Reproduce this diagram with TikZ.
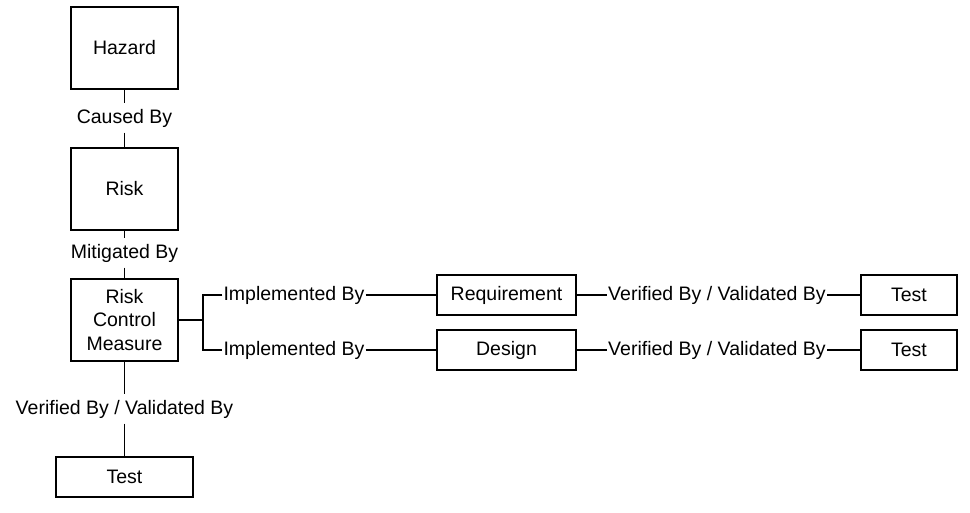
\documentclass[tikz,border=0pt]{standalone}
\usepackage{fontspec}
\setmainfont{Liberation Sans}
\begin{document}
\begin{tikzpicture}
[x=0.02cm,y=-0.02cm,
  font=\fontsize{11.1}{13.6}\selectfont,
  bigbox/.style={shape=rectangle,draw,line width=1.1pt,inner sep=0pt,
    minimum width=2.14cm,minimum height=1.64cm,align=center},
  widebox/.style={shape=rectangle,draw,line width=1.1pt,inner sep=0pt,
    minimum width=2.78cm,minimum height=0.8cm},
  testbox/.style={shape=rectangle,draw,line width=1.1pt,inner sep=0pt,
    minimum width=1.92cm,minimum height=0.8cm},
  linklabel/.style={inner xsep=0.5pt,inner ysep=3pt},
  linedecorate/.style={-,draw,line width=1.1pt}]
\useasboundingbox[fill=white] (0,0) rectangle (970,513);
%% boxes
\node (hazard) at (124.5,48) [bigbox] {Hazard};
\node (risk) at (124.5,189) [bigbox] {Risk};
\node (rcm) at (124.5,320) [bigbox] {Risk\\Control\\Measure};
\node (testrcm) at (124.5,477) [widebox,minimum width=2.74cm] {Test};
\foreach \nodename/\x/\y/\shape/\text in {req/506.5/295/widebox/Requirement,
  design/506.5/350/widebox/Design, testreq/909/295/testbox/Test,
  testdes/909/350/testbox/Test} {
  \node (\nodename) at (\x,\y) [\shape] {\text};
}
%% labels on the links
\foreach \nodename/\x/\y/\text in {causedby/124.5/118/Caused By,
  mitigatedby/124.5/253/Mitigated By,
  verifrcm/124.5/409/{Verified By / Validated By},
  implreq/294/295/Implemented By, impldes/294/350/Implemented By,
  verifreq/717/295/{Verified By / Validated By},
  verifdes/717/350/{Verified By / Validated By}} {
  \node (\nodename) at (\x,\y) [linklabel] {\text};
}
\coordinate (fork) at (203,320);
%% links
\path
\foreach \startnode/\endnode in {hazard.south/causedby.north,
  causedby.south/risk.north, risk.south/mitigatedby.north,
  mitigatedby.south/rcm.north, rcm.south/verifrcm.north,
  verifrcm.south/testrcm.north, rcm.east/fork,
  implreq.east/req.west, impldes.east/design.west,
  req.east/verifreq.west, verifreq.east/testreq.west,
  design.east/verifdes.west, verifdes.east/testdes.west} {
  (\startnode) edge[linedecorate] (\endnode)
};
\draw[linedecorate] (implreq.west) -| (fork) |- (impldes.west);
\end{tikzpicture}
\end{document}
